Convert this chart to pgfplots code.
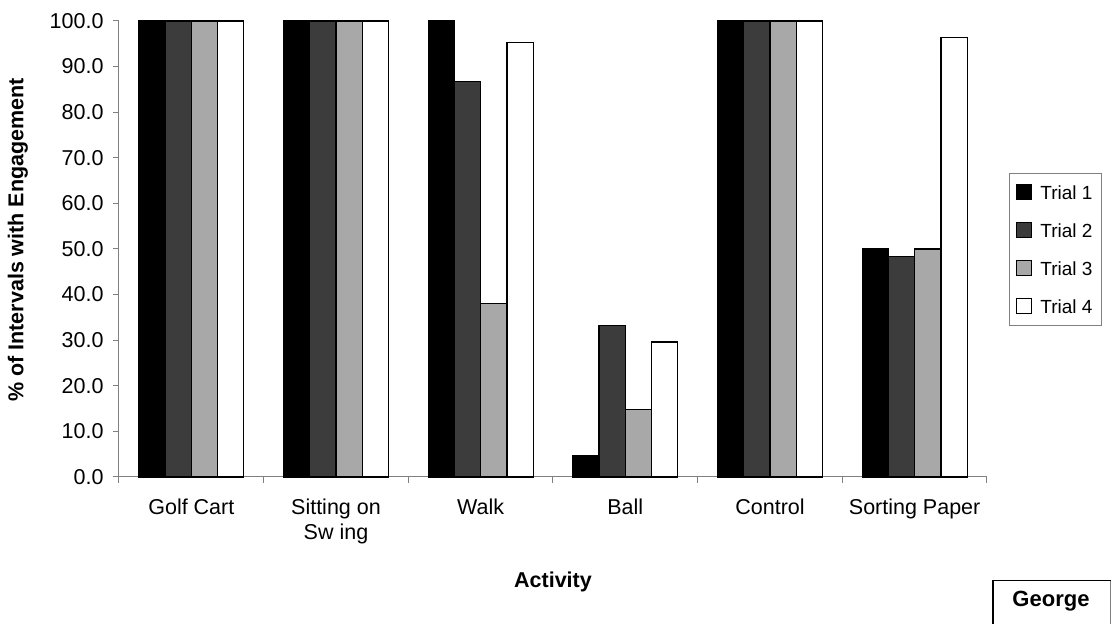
\documentclass[border=0pt]{standalone}
\usepackage{pgfplots}
\pgfplotsset{compat=1.18}
\usepackage{fontspec}
\setmainfont{Liberation Sans}
\definecolor{trialtwo}{HTML}{3C3C3C}
\definecolor{trialthree}{HTML}{A8A8A8}
\definecolor{axgray}{HTML}{808080}
\begin{document}
\begin{tikzpicture}[x=1pt,y=1pt]
\useasboundingbox (0,0) rectangle (1112,624);
\begin{axis}[
  at={(119pt,147pt)}, anchor=south west,
  scale only axis, width=868pt, height=456pt,
  ybar=0pt, bar width=26.25pt,
  xmin=-0.5, xmax=5.5, ymin=0, ymax=100,
  axis x line*=bottom, axis y line*=left,
  axis line style={axgray, line width=1pt, -},
  xtick pos=left, ytick pos=left,
  tick align=outside,
  xtick={0,1,2,3,4,5},
  xticklabels={Golf Cart,{Sitting on\\Sw ing},Walk,Ball,Control,Sorting Paper},
  major x tick style={draw=none},
  minor xtick={-0.5,0.5,1.5,2.5,3.5,4.5,5.5},
  minor tick length=6pt,
  minor x tick style={axgray, line width=1pt},
  ytick={0,10,...,100},
  major tick length=6pt,
  major y tick style={axgray, line width=1pt},
  /pgf/number format/assume math mode=true,
  yticklabel style={/pgf/number format/fixed, /pgf/number format/fixed zerofill, /pgf/number format/precision=1},
  tick label style={font=\fontsize{21.5}{25}\selectfont},
  xticklabel style={align=center, anchor=north, yshift=-12pt},
  yticklabel style={anchor=east, xshift=-6pt},
  xlabel={\textbf{Activity}},
  ylabel={\textbf{\% of Intervals with Engagement}},
  label style={font=\fontsize{21.5}{25}\selectfont},
  xlabel style={at={(axis description cs:0.5,-0.2303)}, anchor=center},
  ylabel style={at={(axis description cs:-0.1164,0.52)}, anchor=center, rotate=0},
  legend style={at={(axis description cs:1.0253,0.6673)}, anchor=north west,
    draw=axgray, line width=0.8pt, inner xsep=7pt, inner ysep=10pt,
    font=\fontsize{19}{25}\selectfont, row sep=20pt,
    nodes={inner sep=2pt, text height=14pt, text depth=0pt},
    /tikz/every odd column/.append style={column sep=6pt}},
  legend cell align=left,
  legend image code/.code={\draw[#1, line width=1pt] (0pt,-7.5pt) rectangle (15pt,7.5pt);},
  clip=false,
]
\addplot[fill=black, draw=black, line width=1.2pt] coordinates {(0,100) (1,100) (2,100) (3,4.8) (4,100) (5,50.0)};
\addplot[fill=trialtwo, draw=black, line width=1.2pt] coordinates {(0,100) (1,100) (2,86.7) (3,33.3) (4,100) (5,48.3)};
\addplot[fill=trialthree, draw=black, line width=1.2pt] coordinates {(0,100) (1,100) (2,38.1) (3,14.8) (4,100) (5,50.0)};
\addplot[fill=white, draw=black, line width=1.2pt] coordinates {(0,100) (1,100) (2,95.2) (3,29.6) (4,100) (5,96.4)};
\legend{Trial 1,Trial 2,Trial 3,Trial 4}
\end{axis}
\draw[black, line width=1.3pt] (993,0) -- (993,43.3) -- (1110.7,43.3);
\draw[axgray, line width=1pt] (1110.7,43.3) -- (1110.7,0);
\node[font=\fontsize{22}{25}\selectfont\bfseries] at (1051,23) {George};
\end{tikzpicture}
\end{document}
